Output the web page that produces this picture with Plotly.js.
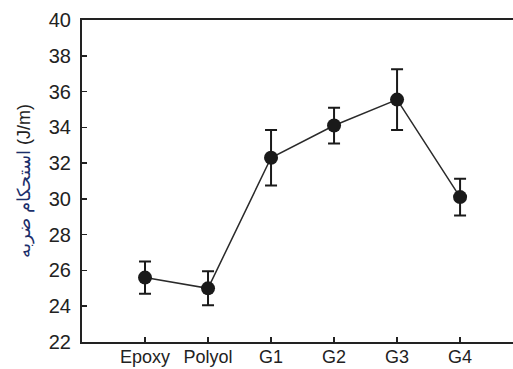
<!DOCTYPE html>
<html>
<head>
<meta charset="utf-8">
<script src="https://cdn.plot.ly/plotly-3.0.1.min.js"></script>
<style>html,body{margin:0;padding:0;background:#fff;}#chart{width:513px;height:369px;}</style>
</head>
<body>
<div id="chart"></div>
<script>
const categories = ["Epoxy", "Polyol", "G1", "G2", "G3", "G4"];
const impactStrength = [25.6, 25.0, 32.3, 34.1, 35.55, 30.1];
const errorValues = [0.9, 0.95, 1.55, 1.0, 1.7, 1.03];
const yTicks = [22, 24, 26, 28, 30, 32, 34, 36, 38, 40];

const xIdx = categories.map((c, i) => i);

const trace = {
  x: xIdx,
  y: impactStrength,
  type: "scatter",
  mode: "lines+markers",
  line: {color: "#2a2a2a", width: 1.5},
  marker: {color: "#1a1a1a", size: 14},
  error_y: {type: "data", array: errorValues, visible: true, color: "#1a1a1a", thickness: 2, width: 6},
  hoverinfo: "skip"
};

const layout = {
  width: 513, height: 369,
  margin: {l: 82, r: 0, t: 20, b: 27},
  paper_bgcolor: "#fff", plot_bgcolor: "#fff",
  showlegend: false,
  font: {family: "Liberation Sans, Arial, sans-serif", color: "#222"},
  xaxis: {
    range: [-1, 5.84],
    tickmode: "array", tickvals: xIdx, ticktext: categories,
    ticks: "inside", ticklen: 5, tickwidth: 1.5, tickcolor: "#222",
    showline: true, linecolor: "#222", linewidth: 2, mirror: true,
    showgrid: false, zeroline: false,
    tickfont: {size: 18, color: "#222"},
    ticklabelstandoff: -3
  },
  yaxis: {
    range: [22, 40],
    tickmode: "array", tickvals: yTicks,
    ticks: "inside", ticklen: 5, tickwidth: 1.5, tickcolor: "#222",
    showline: true, linecolor: "#222", linewidth: 2,
    showgrid: false, zeroline: false,
    tickfont: {size: 20, color: "#222"},
    ticklabelstandoff: 5,
    title: {
      text: '<span style="color:#1c2f6b">استحکام ضربه</span> (J/m)',
      font: {size: 18, color: "#222", family: "Liberation Sans, Arial, sans-serif"},
      standoff: 13
    }
  }
};

Plotly.newPlot("chart", [trace], layout, {staticPlot: true, displayModeBar: false});
</script>
</body>
</html>
